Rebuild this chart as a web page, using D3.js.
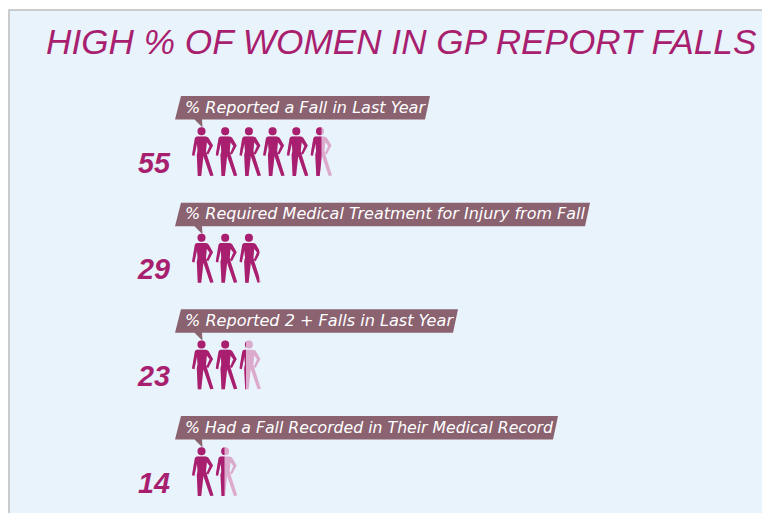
<!DOCTYPE html>
<html><head><meta charset="utf-8">
<script src="https://cdn.jsdelivr.net/npm/d3@7"></script>
<style>html,body{margin:0;padding:0;background:#fff;overflow:hidden}svg{display:block}</style>
</head><body><svg id="c" width="762" height="513"></svg>
<script>
const titleText = "HIGH % OF WOMEN IN GP REPORT FALLS";
const labels = ["% Reported a Fall in Last Year","% Required Medical Treatment for Injury from Fall","% Reported 2 + Falls in Last Year","% Had a Fall Recorded in Their Medical Record"];
const values = [55,29,23,14];
const unit = 10;
const labelLengths = [240,400,268,368];

const dark="#a81f70", pale="#dcaacd", tagCol="#8a6270", panel="#e8f3fb";
const svg=d3.select("#c");
svg.append("rect").attr("x",9).attr("y",10).attr("width",800).attr("height",600)
  .attr("fill",panel).attr("stroke","#bdbdbd").attr("stroke-width",1.5);
svg.append("text").attr("x",46).attr("y",54).attr("fill",dark)
  .attr("font-family","Liberation Sans").attr("font-style","italic").attr("font-size",35.2).text(titleText);

const y=d3.scalePoint().domain(d3.range(values.length)).range([0,320]);
const x=d3.scaleLinear().domain([0,10]).range([192,215.7]);
const iconW=22, iconH=49;
const icon="M5.2,9.4 L13.6,9.4 Q15.6,9.4 16.6,10.9 L21,18.6 L16.2,27.6 L14.4,26.4 L17.6,18.9 L14.8,15.2 L14,24 L15,28 L21.5,48.5 L18.2,49 L11.4,29 L9.2,49 L5.8,49 L4.8,28 L5.6,24 L5,16.5 L2.4,28.8 L0,28.2 L2.8,11.4 Q3.3,9.4 5.2,9.4 Z M13.5,4.2 A4,4 0 1 1 5.5,4.2 A4,4 0 1 1 13.5,4.2 Z";

const defs=svg.append("defs");
const rows=svg.selectAll("g.row").data(values).join("g").attr("class","row")
  .attr("transform",(d,i)=>`translate(0,${y(i)})`);

rows.each(function(v,i){
  const g=d3.select(this);
  const tail=g.append("path").attr("fill",tagCol);
  g.append("text").attr("x",185).attr("y",112.5).attr("fill","#fff")
    .attr("font-family","DejaVu Sans").attr("font-style","oblique").attr("font-size",16)
    .attr("textLength",labelLengths[i]).attr("lengthAdjust","spacingAndGlyphs").text(labels[i]);
  const r=185+labelLengths[i];
  tail.attr("d",`M181,96 L${r+5},96 L${r},119.5 L202,119.5 L202.5,127.5 L194.5,119.5 L175,119.5 Z`);
  const n=Math.ceil(v/unit);
  d3.range(n).forEach(k=>{
    const left=x(k*unit), frac=Math.min(1,v/unit-k);
    const gi=g.append("g").attr("transform",`translate(${left},127)`);
    gi.append("path").attr("d",icon).attr("fill",pale);
    const id=`clip${i}_${k}`;
    defs.append("clipPath").attr("id",id).append("rect").attr("x",0).attr("y",-1).attr("width",frac*iconW).attr("height",iconH+2);
    gi.append("path").attr("d",icon).attr("fill",dark).attr("clip-path",`url(#${id})`);
  });
  g.append("text").attr("x",170).attr("y",172.5).attr("text-anchor","end").attr("fill",dark)
    .attr("font-family","Liberation Sans").attr("font-style","italic").attr("font-weight","bold").attr("font-size",28.8).text(v);
});
</script></body></html>
